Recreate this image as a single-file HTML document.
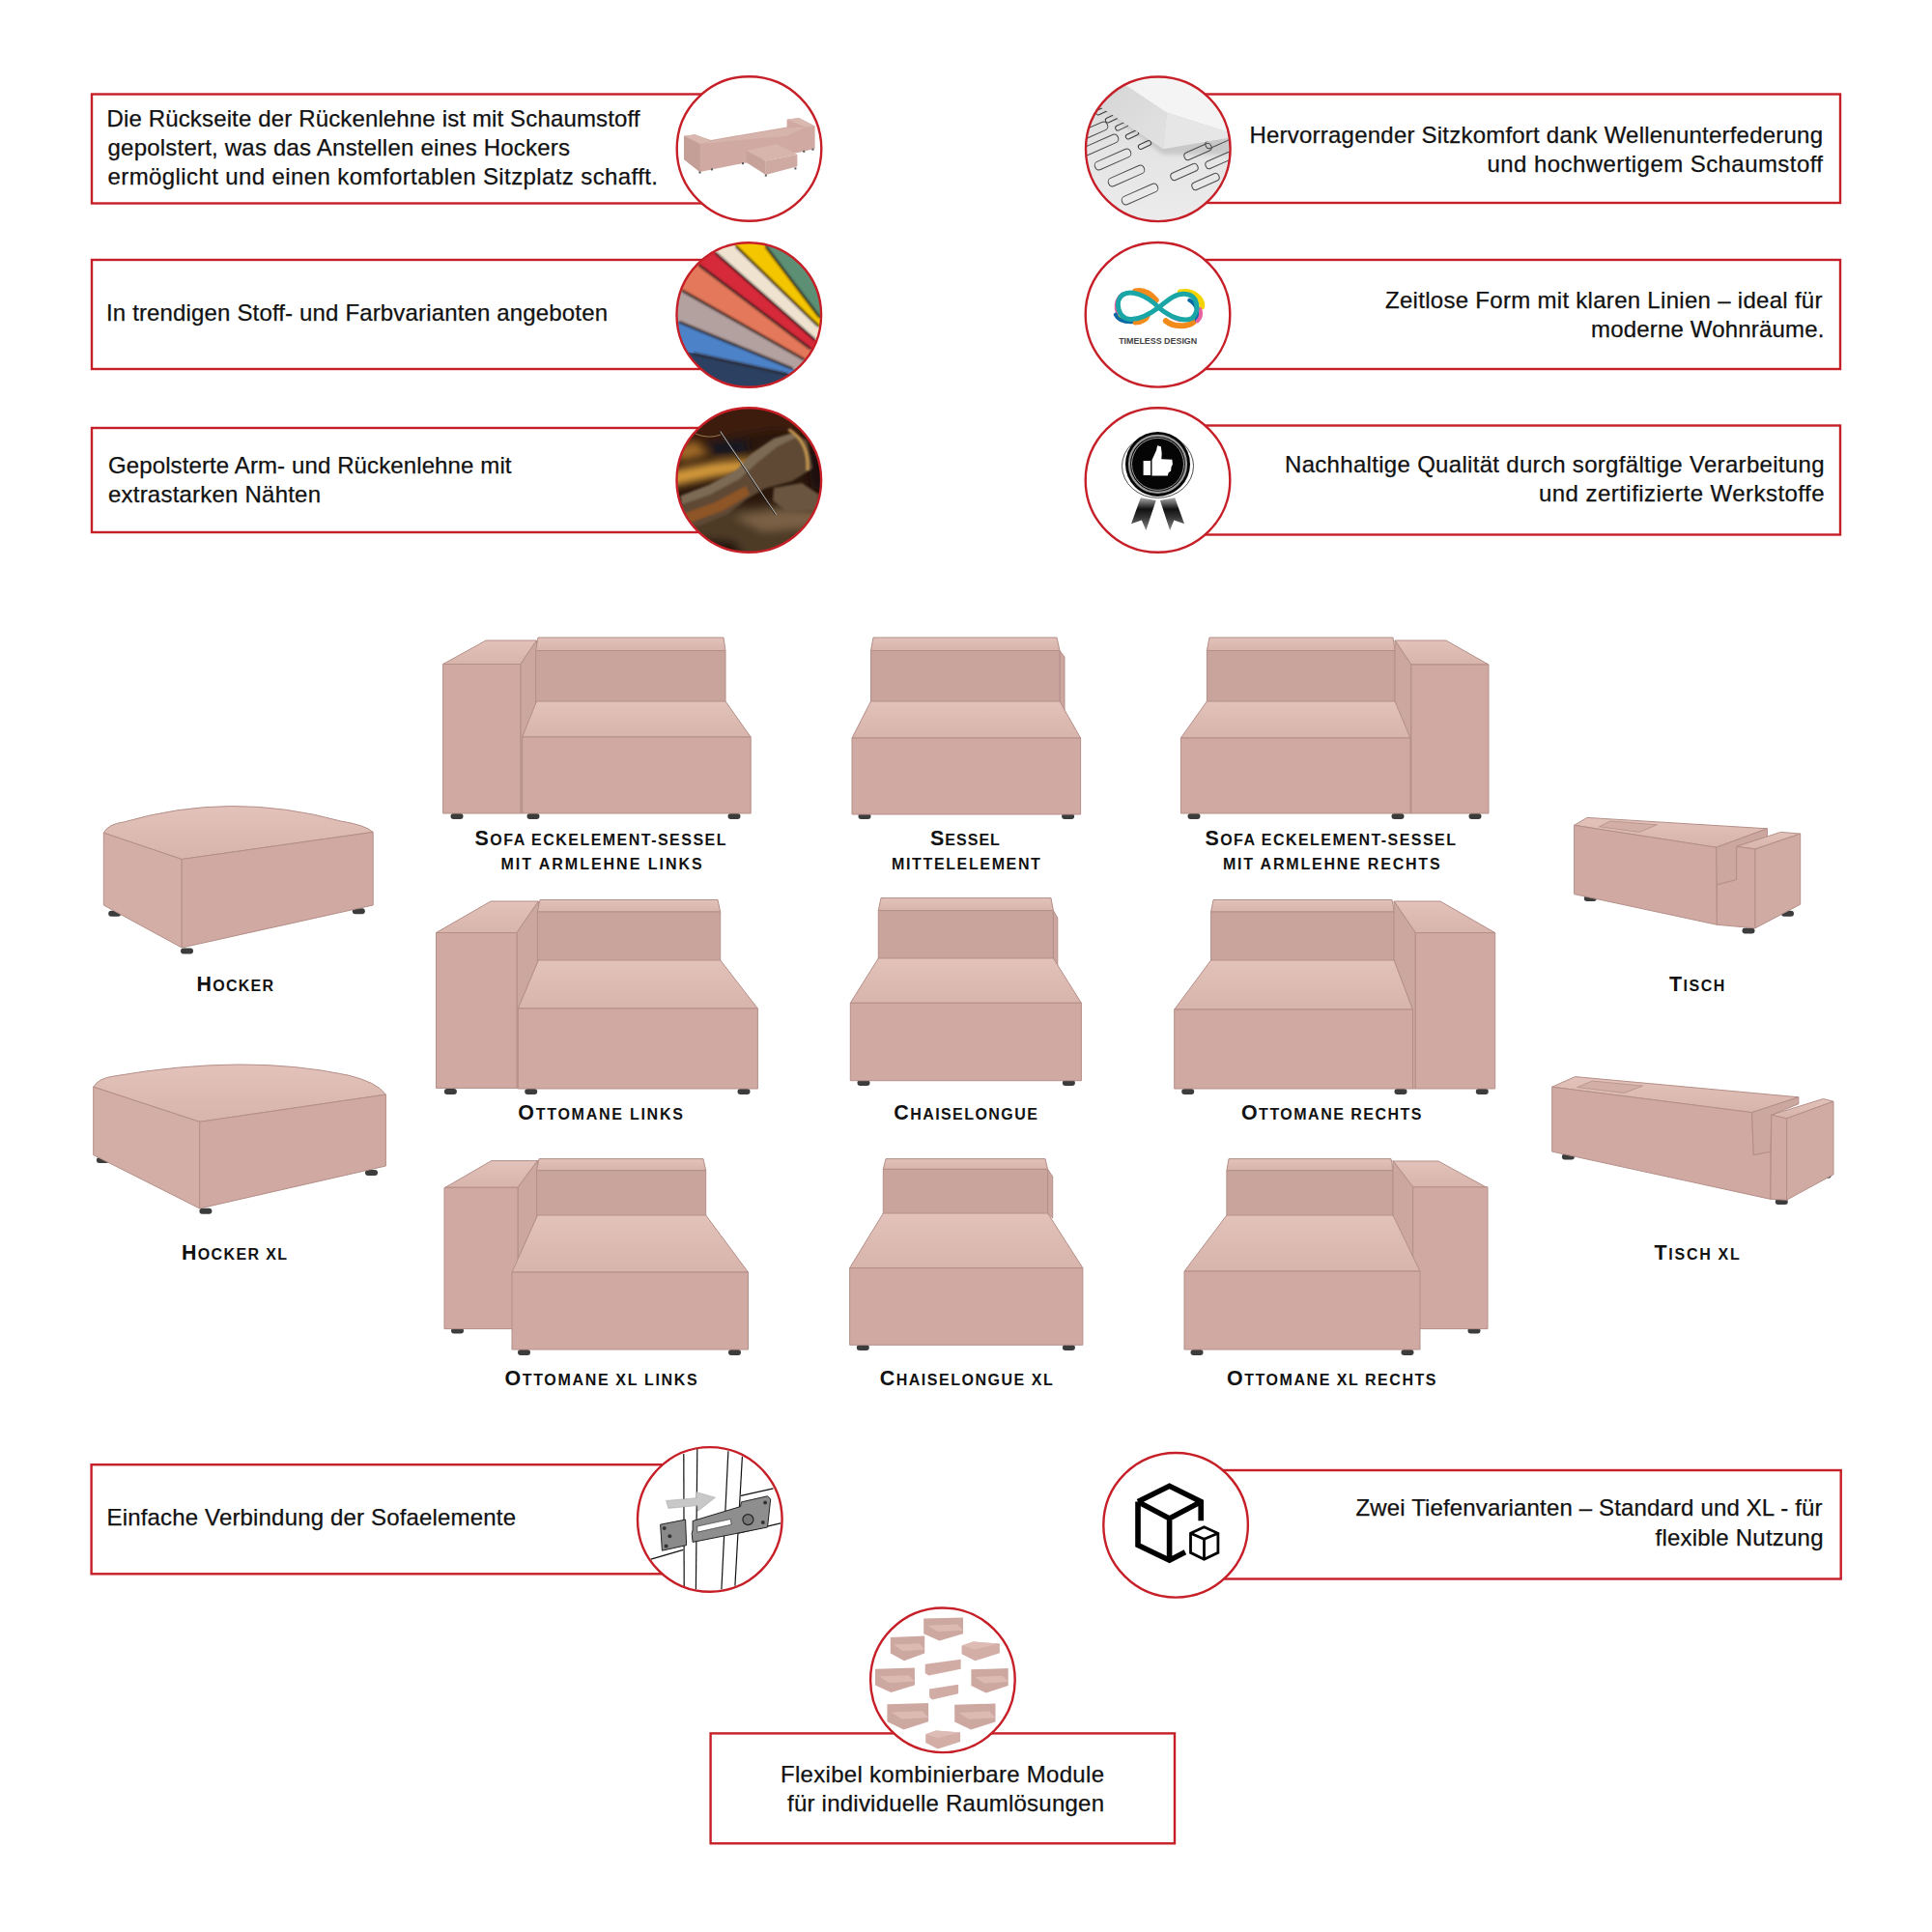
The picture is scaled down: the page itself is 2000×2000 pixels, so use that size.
<!DOCTYPE html>
<html><head><meta charset="utf-8"><style>
html,body{margin:0;padding:0;background:#fff;width:2000px;height:2000px;overflow:hidden;position:relative}
</style></head><body>
<svg width="2000" height="2000" viewBox="0 0 2000 2000" style="position:absolute;left:0;top:0">
<defs>
<clipPath id="c0"><circle cx="775.5" cy="154" r="75"/></clipPath>
<clipPath id="c1"><circle cx="775.3" cy="326" r="75"/></clipPath>
<clipPath id="c2"><circle cx="775.3" cy="497" r="75"/></clipPath>
<clipPath id="c3"><circle cx="1198.8" cy="154.3" r="75"/></clipPath>
<clipPath id="c4"><circle cx="1198.5" cy="325.8" r="75"/></clipPath>
<clipPath id="c5"><circle cx="1198.5" cy="497" r="75"/></clipPath>
<clipPath id="c6"><circle cx="734.8" cy="1572.9" r="75"/></clipPath>
<clipPath id="c7"><circle cx="1217.1" cy="1578.8" r="75"/></clipPath>
<clipPath id="c8"><circle cx="975.9" cy="1739.3" r="75"/></clipPath>
<filter id="bl4" x="-50%" y="-50%" width="200%" height="200%"><feGaussianBlur stdDeviation="4"/></filter><filter id="bl2" x="-50%" y="-50%" width="200%" height="200%"><feGaussianBlur stdDeviation="2"/></filter><filter id="bl1" x="-50%" y="-50%" width="200%" height="200%"><feGaussianBlur stdDeviation="1"/></filter>
<linearGradient id="topg" x1="0" y1="0" x2="0" y2="1"><stop offset="0" stop-color="#e2c2ba"/><stop offset="1" stop-color="#d7b4ac"/></linearGradient>
</defs>
<rect x="95" y="97.5" width="665" height="113.0" fill="none" stroke="#c61f27" stroke-width="2.4"/>
<rect x="95" y="269" width="665" height="113" fill="none" stroke="#c61f27" stroke-width="2.4"/>
<rect x="95" y="443" width="665" height="108" fill="none" stroke="#c61f27" stroke-width="2.4"/>
<rect x="1215" y="97.5" width="690" height="112.5" fill="none" stroke="#c61f27" stroke-width="2.4"/>
<rect x="1215" y="269" width="690" height="113" fill="none" stroke="#c61f27" stroke-width="2.4"/>
<rect x="1215" y="440.5" width="690" height="113.0" fill="none" stroke="#c61f27" stroke-width="2.4"/>
<rect x="94.6" y="1516.2" width="625.4" height="113.09999999999991" fill="none" stroke="#c61f27" stroke-width="2.4"/>
<rect x="1230" y="1522" width="675.7" height="112.5" fill="none" stroke="#c61f27" stroke-width="2.4"/>
<rect x="735.6" y="1794.4" width="480.4" height="113.89999999999986" fill="none" stroke="#c61f27" stroke-width="2.4"/>
<text x="110.50" y="130.6" font-family='"Liberation Sans", sans-serif' font-size="24" fill="#111" stroke="#111" stroke-width="0.25" textLength="552.00" lengthAdjust="spacing">Die Rückseite der Rückenlehne ist mit Schaumstoff</text>
<text x="111.50" y="160.5" font-family='"Liberation Sans", sans-serif' font-size="24" fill="#111" stroke="#111" stroke-width="0.25" textLength="478.50" lengthAdjust="spacing">gepolstert, was das Anstellen eines Hockers</text>
<text x="111.50" y="190.5" font-family='"Liberation Sans", sans-serif' font-size="24" fill="#111" stroke="#111" stroke-width="0.25" textLength="569.50" lengthAdjust="spacing">ermöglicht und einen komfortablen Sitzplatz schafft.</text>
<text x="110.00" y="331.5" font-family='"Liberation Sans", sans-serif' font-size="24" fill="#111" stroke="#111" stroke-width="0.25" textLength="519.00" lengthAdjust="spacing">In trendigen Stoff- und Farbvarianten angeboten</text>
<text x="112.00" y="490.3" font-family='"Liberation Sans", sans-serif' font-size="24" fill="#111" stroke="#111" stroke-width="0.25" textLength="417.50" lengthAdjust="spacing">Gepolsterte Arm- und Rückenlehne mit</text>
<text x="112.00" y="520.1" font-family='"Liberation Sans", sans-serif' font-size="24" fill="#111" stroke="#111" stroke-width="0.25" textLength="220.00" lengthAdjust="spacing">extrastarken Nähten</text>
<text x="1293.50" y="148.4" font-family='"Liberation Sans", sans-serif' font-size="24" fill="#111" stroke="#111" stroke-width="0.25" textLength="593.50" lengthAdjust="spacing">Hervorragender Sitzkomfort dank Wellenunterfederung</text>
<text x="1539.50" y="178.2" font-family='"Liberation Sans", sans-serif' font-size="24" fill="#111" stroke="#111" stroke-width="0.25" textLength="347.50" lengthAdjust="spacing">und hochwertigem Schaumstoff</text>
<text x="1434.00" y="319.2" font-family='"Liberation Sans", sans-serif' font-size="24" fill="#111" stroke="#111" stroke-width="0.25" textLength="452.50" lengthAdjust="spacing">Zeitlose Form mit klaren Linien – ideal für</text>
<text x="1647.00" y="349.2" font-family='"Liberation Sans", sans-serif' font-size="24" fill="#111" stroke="#111" stroke-width="0.25" textLength="241.50" lengthAdjust="spacing">moderne Wohnräume.</text>
<text x="1330.00" y="488.8" font-family='"Liberation Sans", sans-serif' font-size="24" fill="#111" stroke="#111" stroke-width="0.25" textLength="558.50" lengthAdjust="spacing">Nachhaltige Qualität durch sorgfältige Verarbeitung</text>
<text x="1593.00" y="518.6" font-family='"Liberation Sans", sans-serif' font-size="24" fill="#111" stroke="#111" stroke-width="0.25" textLength="295.50" lengthAdjust="spacing">und zertifizierte Werkstoffe</text>
<text x="110.50" y="1579.2" font-family='"Liberation Sans", sans-serif' font-size="24" fill="#111" stroke="#111" stroke-width="0.25" textLength="423.50" lengthAdjust="spacing">Einfache Verbindung der Sofaelemente</text>
<text x="1403.50" y="1569.3" font-family='"Liberation Sans", sans-serif' font-size="24" fill="#111" stroke="#111" stroke-width="0.25" textLength="483.00" lengthAdjust="spacing">Zwei Tiefenvarianten – Standard und XL - für</text>
<text x="1713.50" y="1599.5" font-family='"Liberation Sans", sans-serif' font-size="24" fill="#111" stroke="#111" stroke-width="0.25" textLength="174.00" lengthAdjust="spacing">flexible Nutzung</text>
<text x="808.00" y="1844.9" font-family='"Liberation Sans", sans-serif' font-size="24" fill="#111" stroke="#111" stroke-width="0.25" textLength="335.00" lengthAdjust="spacing">Flexibel kombinierbare Module</text>
<text x="815.00" y="1874.5" font-family='"Liberation Sans", sans-serif' font-size="24" fill="#111" stroke="#111" stroke-width="0.25" textLength="328.00" lengthAdjust="spacing">für individuelle Raumlösungen</text>
<rect x="466.5" y="842.0" width="13" height="6" rx="3" fill="#3c3c3c"/>
<rect x="545.5" y="842.0" width="13" height="6" rx="3" fill="#3c3c3c"/>
<rect x="753.5" y="842.0" width="13" height="6" rx="3" fill="#3c3c3c"/>
<polygon points="503.0,663.0 555.5,663.0 538.8,687.5 458.6,687.5" fill="url(#topg)" stroke="#b48f88" stroke-width="1.0" stroke-linejoin="round"/>
<polygon points="538.8,687.5 555.5,663.0 555.5,730.0 540.6,763.0 540.6,842.0 538.8,842.0" fill="#cca7a0" stroke="#b48f88" stroke-width="1.0" stroke-linejoin="round"/>
<polygon points="458.6,687.5 538.8,687.5 538.8,842.0 458.6,842.0" fill="#cfa9a2" stroke="#b48f88" stroke-width="1.0" stroke-linejoin="round"/>
<polygon points="557.0,660.0 749.0,660.0 751.0,673.5 554.6,673.5" fill="url(#topg)" stroke="#b48f88" stroke-width="1.0" stroke-linejoin="round"/>
<polygon points="554.6,673.5 751.0,673.5 751.0,731.0 554.6,731.0" fill="#c9a49d" stroke="#b48f88" stroke-width="1.0" stroke-linejoin="round"/>
<polygon points="555.5,726.0 751.0,726.0 777.2,763.0 540.6,763.0" fill="url(#topg)" stroke="#b48f88" stroke-width="1.0" stroke-linejoin="round"/>
<polygon points="540.6,763.0 777.2,763.0 777.2,842.0 540.6,842.0" fill="#cfa9a2" stroke="#b48f88" stroke-width="1.0" stroke-linejoin="round"/>
<rect x="888.5" y="842.0" width="13" height="6" rx="3" fill="#3c3c3c"/>
<rect x="1099.1" y="842.0" width="13" height="6" rx="3" fill="#3c3c3c"/>
<polygon points="904.0,660.0 1094.0,660.0 1097.0,673.5 901.5,673.5" fill="url(#topg)" stroke="#b48f88" stroke-width="1.0" stroke-linejoin="round"/>
<polygon points="1097.0,673.5 1102.0,680.0 1102.0,738.0 1097.0,731.0" fill="#cca7a0" stroke="#b48f88" stroke-width="1.0" stroke-linejoin="round"/>
<polygon points="901.5,673.5 1097.0,673.5 1097.0,731.0 901.5,731.0" fill="#c9a49d" stroke="#b48f88" stroke-width="1.0" stroke-linejoin="round"/>
<polygon points="901.5,726.0 1097.0,726.0 1118.6,764.0 882.0,764.0" fill="url(#topg)" stroke="#b48f88" stroke-width="1.0" stroke-linejoin="round"/>
<polygon points="882.0,764.0 1118.6,764.0 1118.6,843.0 882.0,843.0" fill="#cfa9a2" stroke="#b48f88" stroke-width="1.0" stroke-linejoin="round"/>
<rect x="1229.5" y="842.0" width="13" height="6" rx="3" fill="#3c3c3c"/>
<rect x="1440.5" y="842.0" width="13" height="6" rx="3" fill="#3c3c3c"/>
<rect x="1520.5" y="842.0" width="13" height="6" rx="3" fill="#3c3c3c"/>
<polygon points="1252.0,660.0 1442.0,660.0 1444.0,673.5 1249.4,673.5" fill="url(#topg)" stroke="#b48f88" stroke-width="1.0" stroke-linejoin="round"/>
<polygon points="1249.4,673.5 1444.0,673.5 1444.0,731.0 1249.4,731.0" fill="#c9a49d" stroke="#b48f88" stroke-width="1.0" stroke-linejoin="round"/>
<polygon points="1444.0,663.0 1497.0,663.0 1541.0,688.0 1460.9,688.0" fill="url(#topg)" stroke="#b48f88" stroke-width="1.0" stroke-linejoin="round"/>
<polygon points="1444.0,663.0 1460.9,688.0 1460.9,842.0 1460.0,842.0 1460.0,764.0 1444.0,730.0" fill="#cca7a0" stroke="#b48f88" stroke-width="1.0" stroke-linejoin="round"/>
<polygon points="1460.9,688.0 1541.0,688.0 1541.0,842.0 1460.9,842.0" fill="#cfa9a2" stroke="#b48f88" stroke-width="1.0" stroke-linejoin="round"/>
<polygon points="1249.4,726.0 1444.0,726.0 1460.0,764.0 1222.4,764.0" fill="url(#topg)" stroke="#b48f88" stroke-width="1.0" stroke-linejoin="round"/>
<polygon points="1222.4,764.0 1460.0,764.0 1460.0,842.0 1222.4,842.0" fill="#cfa9a2" stroke="#b48f88" stroke-width="1.0" stroke-linejoin="round"/>
<rect x="459.9" y="1127.0" width="13" height="6" rx="3" fill="#3c3c3c"/>
<rect x="543.2" y="1127.0" width="13" height="6" rx="3" fill="#3c3c3c"/>
<rect x="763.5" y="1127.0" width="13" height="6" rx="3" fill="#3c3c3c"/>
<polygon points="508.0,933.0 557.4,933.0 535.0,965.5 451.5,965.5" fill="url(#topg)" stroke="#b48f88" stroke-width="1.0" stroke-linejoin="round"/>
<polygon points="535.0,965.5 557.4,933.0 557.4,994.0 536.3,1044.0 536.3,1126.4 535.0,1126.4" fill="#cca7a0" stroke="#b48f88" stroke-width="1.0" stroke-linejoin="round"/>
<polygon points="451.5,965.5 535.0,965.5 535.0,1126.4 451.5,1126.4" fill="#cfa9a2" stroke="#b48f88" stroke-width="1.0" stroke-linejoin="round"/>
<polygon points="559.0,931.5 743.0,931.5 745.7,944.0 556.4,944.0" fill="url(#topg)" stroke="#b48f88" stroke-width="1.0" stroke-linejoin="round"/>
<polygon points="556.4,944.0 745.7,944.0 745.7,995.0 556.4,995.0" fill="#c9a49d" stroke="#b48f88" stroke-width="1.0" stroke-linejoin="round"/>
<polygon points="557.4,994.0 745.7,994.0 784.4,1044.0 536.3,1044.0" fill="url(#topg)" stroke="#b48f88" stroke-width="1.0" stroke-linejoin="round"/>
<polygon points="536.3,1044.0 784.4,1044.0 784.4,1127.0 536.3,1127.0" fill="#cfa9a2" stroke="#b48f88" stroke-width="1.0" stroke-linejoin="round"/>
<rect x="887.5" y="1118.0" width="13" height="6" rx="3" fill="#3c3c3c"/>
<rect x="1099.9" y="1118.0" width="13" height="6" rx="3" fill="#3c3c3c"/>
<polygon points="912.0,929.6 1088.0,929.6 1090.4,942.6 909.3,942.6" fill="url(#topg)" stroke="#b48f88" stroke-width="1.0" stroke-linejoin="round"/>
<polygon points="1090.4,942.6 1094.8,950.0 1094.8,1002.8 1090.4,992.0" fill="#cca7a0" stroke="#b48f88" stroke-width="1.0" stroke-linejoin="round"/>
<polygon points="909.3,942.6 1090.4,942.6 1090.4,993.0 909.3,993.0" fill="#c9a49d" stroke="#b48f88" stroke-width="1.0" stroke-linejoin="round"/>
<polygon points="909.3,992.0 1090.4,992.0 1119.4,1038.3 880.3,1038.3" fill="url(#topg)" stroke="#b48f88" stroke-width="1.0" stroke-linejoin="round"/>
<polygon points="880.3,1038.3 1119.4,1038.3 1119.4,1118.7 880.3,1118.7" fill="#cfa9a2" stroke="#b48f88" stroke-width="1.0" stroke-linejoin="round"/>
<rect x="1223.2" y="1127.0" width="13" height="6" rx="3" fill="#3c3c3c"/>
<rect x="1443.5" y="1127.0" width="13" height="6" rx="3" fill="#3c3c3c"/>
<rect x="1527.8" y="1127.0" width="13" height="6" rx="3" fill="#3c3c3c"/>
<polygon points="1256.0,931.5 1441.0,931.5 1443.3,944.0 1253.6,944.0" fill="url(#topg)" stroke="#b48f88" stroke-width="1.0" stroke-linejoin="round"/>
<polygon points="1253.6,944.0 1443.3,944.0 1443.3,995.0 1253.6,995.0" fill="#c9a49d" stroke="#b48f88" stroke-width="1.0" stroke-linejoin="round"/>
<polygon points="1443.0,933.0 1491.0,933.0 1547.7,965.6 1465.3,965.6" fill="url(#topg)" stroke="#b48f88" stroke-width="1.0" stroke-linejoin="round"/>
<polygon points="1443.0,933.0 1465.3,965.6 1465.3,1127.0 1462.5,1127.0 1462.5,1045.0 1443.0,994.0" fill="#cca7a0" stroke="#b48f88" stroke-width="1.0" stroke-linejoin="round"/>
<polygon points="1465.3,965.6 1547.7,965.6 1547.7,1127.0 1465.3,1127.0" fill="#cfa9a2" stroke="#b48f88" stroke-width="1.0" stroke-linejoin="round"/>
<polygon points="1253.6,994.0 1443.0,994.0 1462.5,1045.0 1215.7,1045.0" fill="url(#topg)" stroke="#b48f88" stroke-width="1.0" stroke-linejoin="round"/>
<polygon points="1215.7,1045.0 1462.5,1045.0 1462.5,1127.0 1215.7,1127.0" fill="#cfa9a2" stroke="#b48f88" stroke-width="1.0" stroke-linejoin="round"/>
<rect x="467.0" y="1374.5" width="13" height="6" rx="3" fill="#3c3c3c"/>
<rect x="536.0" y="1397.0" width="13" height="6" rx="3" fill="#3c3c3c"/>
<rect x="754.0" y="1397.0" width="13" height="6" rx="3" fill="#3c3c3c"/>
<polygon points="508.8,1201.6 556.5,1201.6 536.0,1229.2 461.0,1229.2" fill="url(#topg)" stroke="#b48f88" stroke-width="1.0" stroke-linejoin="round"/>
<polygon points="536.0,1229.4 556.5,1201.4 556.5,1258.0 530.0,1317.0 536.0,1317.0" fill="#cca7a0" stroke="#b48f88" stroke-width="1.0" stroke-linejoin="round"/>
<polygon points="460.0,1229.4 536.0,1229.4 536.0,1375.6 460.0,1375.6" fill="#cfa9a2" stroke="#b48f88" stroke-width="1.0" stroke-linejoin="round"/>
<polygon points="558.0,1199.6 728.0,1199.6 730.7,1211.7 555.5,1211.7" fill="url(#topg)" stroke="#b48f88" stroke-width="1.0" stroke-linejoin="round"/>
<polygon points="555.5,1211.7 730.7,1211.7 730.7,1259.0 555.5,1259.0" fill="#c9a49d" stroke="#b48f88" stroke-width="1.0" stroke-linejoin="round"/>
<polygon points="556.5,1258.0 730.7,1258.0 774.5,1317.0 530.0,1317.0" fill="url(#topg)" stroke="#b48f88" stroke-width="1.0" stroke-linejoin="round"/>
<polygon points="530.0,1317.0 774.5,1317.0 774.5,1397.0 530.0,1397.0" fill="#cfa9a2" stroke="#b48f88" stroke-width="1.0" stroke-linejoin="round"/>
<rect x="886.8" y="1392.0" width="13" height="6" rx="3" fill="#3c3c3c"/>
<rect x="1099.9" y="1392.0" width="13" height="6" rx="3" fill="#3c3c3c"/>
<polygon points="917.0,1199.6 1082.0,1199.6 1084.6,1210.4 914.3,1210.4" fill="url(#topg)" stroke="#b48f88" stroke-width="1.0" stroke-linejoin="round"/>
<polygon points="1084.6,1210.4 1089.7,1218.0 1089.7,1261.0 1084.6,1256.0" fill="#cca7a0" stroke="#b48f88" stroke-width="1.0" stroke-linejoin="round"/>
<polygon points="914.3,1210.4 1084.6,1210.4 1084.6,1257.0 914.3,1257.0" fill="#c9a49d" stroke="#b48f88" stroke-width="1.0" stroke-linejoin="round"/>
<polygon points="914.3,1256.0 1084.6,1256.0 1120.9,1312.6 879.6,1312.6" fill="url(#topg)" stroke="#b48f88" stroke-width="1.0" stroke-linejoin="round"/>
<polygon points="879.6,1312.6 1120.9,1312.6 1120.9,1392.3 879.6,1392.3" fill="#cfa9a2" stroke="#b48f88" stroke-width="1.0" stroke-linejoin="round"/>
<rect x="1232.5" y="1397.0" width="13" height="6" rx="3" fill="#3c3c3c"/>
<rect x="1450.5" y="1397.0" width="13" height="6" rx="3" fill="#3c3c3c"/>
<rect x="1519.5" y="1374.5" width="13" height="6" rx="3" fill="#3c3c3c"/>
<polygon points="1272.0,1199.6 1440.0,1199.6 1442.2,1211.7 1269.9,1211.7" fill="url(#topg)" stroke="#b48f88" stroke-width="1.0" stroke-linejoin="round"/>
<polygon points="1269.9,1211.7 1442.2,1211.7 1442.2,1259.0 1269.9,1259.0" fill="#c9a49d" stroke="#b48f88" stroke-width="1.0" stroke-linejoin="round"/>
<polygon points="1442.0,1202.0 1489.0,1202.0 1538.5,1229.0 1462.7,1229.0" fill="url(#topg)" stroke="#b48f88" stroke-width="1.0" stroke-linejoin="round"/>
<polygon points="1442.0,1201.4 1462.7,1228.8 1462.7,1316.0 1442.0,1258.0" fill="#cca7a0" stroke="#b48f88" stroke-width="1.0" stroke-linejoin="round"/>
<polygon points="1462.7,1228.8 1540.0,1228.8 1540.0,1375.6 1462.7,1375.6" fill="#cfa9a2" stroke="#b48f88" stroke-width="1.0" stroke-linejoin="round"/>
<polygon points="1269.9,1258.0 1442.0,1258.0 1470.0,1316.0 1226.0,1316.0" fill="url(#topg)" stroke="#b48f88" stroke-width="1.0" stroke-linejoin="round"/>
<polygon points="1226.0,1316.0 1470.0,1316.0 1470.0,1397.0 1226.0,1397.0" fill="#cfa9a2" stroke="#b48f88" stroke-width="1.0" stroke-linejoin="round"/>
<rect x="187.0" y="981.5" width="13" height="6" rx="3" fill="#3c3c3c"/>
<rect x="112.2" y="942.8" width="13" height="6" rx="3" fill="#3c3c3c"/>
<rect x="364.8" y="940.2" width="13" height="6" rx="3" fill="#3c3c3c"/>
<path d="M107.3,862.2 Q112,853 128,851 Q239.3,818.6 352.8,850 Q378,854 386.2,861.4 L188.2,889.5 Z" fill="url(#topg)" stroke="#b48f88" stroke-width="1"/>
<polygon points="107.3,862.2 188.2,889.5 188.2,981.0 107.3,937.0" fill="#d3aea7" stroke="#b48f88" stroke-width="1.0" stroke-linejoin="round"/>
<polygon points="188.2,889.5 386.2,861.4 386.2,937.0 188.2,981.0" fill="#cfa9a2" stroke="#b48f88" stroke-width="1.0" stroke-linejoin="round"/>
<rect x="206.4" y="1250.7" width="13" height="6" rx="3" fill="#3c3c3c"/>
<rect x="99.9" y="1197.9" width="13" height="6" rx="3" fill="#3c3c3c"/>
<rect x="378.0" y="1211.0" width="13" height="6" rx="3" fill="#3c3c3c"/>
<path d="M96.7,1125.2 Q102,1116 118,1114 Q255,1090.5 360,1113 Q390,1120 399.4,1133.1 L206.7,1161.3 Z" fill="url(#topg)" stroke="#b48f88" stroke-width="1"/>
<polygon points="96.7,1125.2 206.7,1161.3 206.7,1251.0 96.7,1195.6" fill="#d3aea7" stroke="#b48f88" stroke-width="1.0" stroke-linejoin="round"/>
<polygon points="206.7,1161.3 399.4,1133.1 399.4,1207.0 206.7,1251.0" fill="#cfa9a2" stroke="#b48f88" stroke-width="1.0" stroke-linejoin="round"/>
<rect x="1639.8" y="927.0" width="13" height="6" rx="3" fill="#3c3c3c"/>
<rect x="1803.5" y="960.4" width="13" height="6" rx="3" fill="#3c3c3c"/>
<rect x="1844.0" y="942.8" width="13" height="6" rx="3" fill="#3c3c3c"/>
<polygon points="1629.6,854.3 1642.8,846.4 1829.4,857.8 1776.6,877.2" fill="url(#topg)" stroke="#b48f88" stroke-width="1.0" stroke-linejoin="round"/>
<polygon points="1655.5,855.8 1697.3,861.4 1715.2,853.8 1666.9,850.0" fill="#d2aea6" stroke="#b48f88" stroke-width="0.8" stroke-linejoin="round"/>
<polygon points="1629.6,854.3 1776.6,877.2 1777.4,957.3 1629.6,925.6" fill="#cfa9a2" stroke="#b48f88" stroke-width="1.0" stroke-linejoin="round"/>
<polygon points="1776.6,877.2 1829.4,857.8 1829.4,865.8 1797.7,876.3 1797.7,910.6 1777.4,915.9" fill="#cca7a0" stroke="#b48f88" stroke-width="1.0" stroke-linejoin="round"/>
<polygon points="1797.7,876.3 1843.4,861.4 1863.7,863.1 1817.0,879.0" fill="url(#topg)" stroke="#b48f88" stroke-width="1.0" stroke-linejoin="round"/>
<polygon points="1797.7,876.3 1817.0,879.0 1817.0,960.8 1777.4,957.3 1777.4,915.9 1797.7,910.6" fill="#cfa9a2" stroke="#b48f88" stroke-width="1.0" stroke-linejoin="round"/>
<polygon points="1817.0,879.0 1863.7,863.1 1863.7,936.2 1817.0,960.8" fill="#d0aba4" stroke="#b48f88" stroke-width="1.0" stroke-linejoin="round"/>
<rect x="1616.9" y="1194.4" width="13" height="6" rx="3" fill="#3c3c3c"/>
<rect x="1837.8" y="1241.0" width="13" height="6" rx="3" fill="#3c3c3c"/>
<rect x="1882.7" y="1213.7" width="13" height="6" rx="3" fill="#3c3c3c"/>
<polygon points="1606.7,1125.2 1630.5,1114.6 1861.9,1135.8 1813.5,1151.6" fill="url(#topg)" stroke="#b48f88" stroke-width="1.0" stroke-linejoin="round"/>
<polygon points="1632.6,1125.6 1681.3,1131.4 1700.5,1124.1 1648.4,1119.0" fill="#d2aea6" stroke="#b48f88" stroke-width="0.8" stroke-linejoin="round"/>
<polygon points="1606.7,1125.2 1813.5,1151.6 1815.3,1195.6 1832.9,1192.1 1832.9,1241.4 1606.7,1192.1" fill="#cfa9a2" stroke="#b48f88" stroke-width="1.0" stroke-linejoin="round"/>
<polygon points="1813.5,1151.6 1861.9,1135.8 1861.9,1142.8 1833.8,1154.2 1832.9,1192.1 1815.3,1195.6" fill="#cca7a0" stroke="#b48f88" stroke-width="1.0" stroke-linejoin="round"/>
<polygon points="1833.8,1154.2 1887.4,1137.5 1898.0,1140.2 1849.6,1157.8" fill="url(#topg)" stroke="#b48f88" stroke-width="1.0" stroke-linejoin="round"/>
<polygon points="1833.8,1154.2 1849.6,1157.8 1849.6,1242.2 1832.9,1241.4" fill="#cfa9a2" stroke="#b48f88" stroke-width="1.0" stroke-linejoin="round"/>
<polygon points="1849.6,1157.8 1898.0,1140.2 1898.0,1215.8 1849.6,1242.2" fill="#d0aba4" stroke="#b48f88" stroke-width="1.0" stroke-linejoin="round"/>
<text x="491.60" y="874.8" font-family='"Liberation Sans", sans-serif' font-weight="bold" fill="#111" textLength="259.90" lengthAdjust="spacing"><tspan font-size="21.4">S</tspan><tspan font-size="16">OFA ECKELEMENT-SESSEL</tspan></text>
<text x="518.40" y="900.3" font-family='"Liberation Sans", sans-serif' font-weight="bold" fill="#111" textLength="208.30" lengthAdjust="spacing"><tspan font-size="16">MIT ARMLEHNE LINKS</tspan></text>
<text x="963.00" y="874.8" font-family='"Liberation Sans", sans-serif' font-weight="bold" fill="#111" textLength="71.90" lengthAdjust="spacing"><tspan font-size="21.4">S</tspan><tspan font-size="16">ESSEL</tspan></text>
<text x="923.00" y="900.3" font-family='"Liberation Sans", sans-serif' font-weight="bold" fill="#111" textLength="153.90" lengthAdjust="spacing"><tspan font-size="16">MITTELELEMENT</tspan></text>
<text x="1247.40" y="874.8" font-family='"Liberation Sans", sans-serif' font-weight="bold" fill="#111" textLength="259.60" lengthAdjust="spacing"><tspan font-size="21.4">S</tspan><tspan font-size="16">OFA ECKELEMENT-SESSEL</tspan></text>
<text x="1266.00" y="900.3" font-family='"Liberation Sans", sans-serif' font-weight="bold" fill="#111" textLength="224.60" lengthAdjust="spacing"><tspan font-size="16">MIT ARMLEHNE RECHTS</tspan></text>
<text x="536.30" y="1159.3" font-family='"Liberation Sans", sans-serif' font-weight="bold" fill="#111" textLength="170.60" lengthAdjust="spacing"><tspan font-size="21.4">O</tspan><tspan font-size="16">TTOMANE LINKS</tspan></text>
<text x="925.30" y="1159.3" font-family='"Liberation Sans", sans-serif' font-weight="bold" fill="#111" textLength="148.50" lengthAdjust="spacing"><tspan font-size="21.4">C</tspan><tspan font-size="16">HAISELONGUE</tspan></text>
<text x="1285.00" y="1159.3" font-family='"Liberation Sans", sans-serif' font-weight="bold" fill="#111" textLength="186.50" lengthAdjust="spacing"><tspan font-size="21.4">O</tspan><tspan font-size="16">TTOMANE RECHTS</tspan></text>
<text x="522.40" y="1433.8" font-family='"Liberation Sans", sans-serif' font-weight="bold" fill="#111" textLength="199.30" lengthAdjust="spacing"><tspan font-size="21.4">O</tspan><tspan font-size="16">TTOMANE XL LINKS</tspan></text>
<text x="910.70" y="1433.8" font-family='"Liberation Sans", sans-serif' font-weight="bold" fill="#111" textLength="179.00" lengthAdjust="spacing"><tspan font-size="21.4">C</tspan><tspan font-size="16">HAISELONGUE XL</tspan></text>
<text x="1270.10" y="1433.8" font-family='"Liberation Sans", sans-serif' font-weight="bold" fill="#111" textLength="216.40" lengthAdjust="spacing"><tspan font-size="21.4">O</tspan><tspan font-size="16">TTOMANE XL RECHTS</tspan></text>
<text x="203.60" y="1025.5" font-family='"Liberation Sans", sans-serif' font-weight="bold" fill="#111" textLength="79.50" lengthAdjust="spacing"><tspan font-size="21.4">H</tspan><tspan font-size="16">OCKER</tspan></text>
<text x="188.00" y="1304" font-family='"Liberation Sans", sans-serif' font-weight="bold" fill="#111" textLength="109.00" lengthAdjust="spacing"><tspan font-size="21.4">H</tspan><tspan font-size="16">OCKER XL</tspan></text>
<text x="1728.00" y="1025.5" font-family='"Liberation Sans", sans-serif' font-weight="bold" fill="#111" textLength="57.30" lengthAdjust="spacing"><tspan font-size="21.4">T</tspan><tspan font-size="16">ISCH</tspan></text>
<text x="1712.60" y="1304" font-family='"Liberation Sans", sans-serif' font-weight="bold" fill="#111" textLength="88.10" lengthAdjust="spacing"><tspan font-size="21.4">T</tspan><tspan font-size="16">ISCH XL</tspan></text>
<circle cx="775.5" cy="154" r="75" fill="#fff"/>
<circle cx="775.3" cy="326" r="75" fill="#fff"/>
<circle cx="775.3" cy="497" r="75" fill="#fff"/>
<circle cx="1198.8" cy="154.3" r="75" fill="#fff"/>
<circle cx="1198.5" cy="325.8" r="75" fill="#fff"/>
<circle cx="1198.5" cy="497" r="75" fill="#fff"/>
<circle cx="734.8" cy="1572.9" r="75" fill="#fff"/>
<circle cx="1217.1" cy="1578.8" r="75" fill="#fff"/>
<circle cx="975.9" cy="1739.3" r="75" fill="#fff"/>
<g clip-path="url(#c0)">
<polygon points="708.0,140.7 719.3,139.2 735.9,144.9 814.6,131.4 814.6,123.7 827.0,122.1 843.6,130.4 843.6,153.7 832.2,156.8 771.1,168.7 724.5,178.0 708.0,165.1" fill="#cfa9a2" stroke="none" stroke-width="0" stroke-linejoin="round" />
<polygon points="708.0,140.7 719.3,139.2 735.9,145.9 724.5,149.0" fill="#d9b8b0" stroke="none" stroke-width="0" stroke-linejoin="round" />
<polygon points="724.5,149.0 735.9,145.9 814.6,132.5 834.2,131.4 814.6,140.7" fill="#d6b3ab" stroke="none" stroke-width="0" stroke-linejoin="round" />
<polygon points="814.6,123.7 827.0,122.1 843.6,130.4 834.2,131.4" fill="#d9b8b0" stroke="none" stroke-width="0" stroke-linejoin="round" />
<polygon points="708.0,140.7 724.5,149.0 724.5,178.0 708.0,165.1" fill="#c49f98" stroke="none" stroke-width="0" stroke-linejoin="round" />
<polygon points="772.7,156.3 804.2,149.0 825.4,159.9 792.8,166.6" fill="#d7b4ac" stroke="none" stroke-width="0" stroke-linejoin="round" />
<polygon points="772.7,156.3 792.8,166.6 792.8,181.1 772.7,168.2" fill="#c7a29b" stroke="none" stroke-width="0" stroke-linejoin="round" />
<polygon points="792.8,166.6 825.4,159.9 825.4,172.3 792.8,181.1" fill="#cfaaa3" stroke="none" stroke-width="0" stroke-linejoin="round" />
<rect x="723.5" y="177.5" width="2" height="2" fill="#555"/>
<rect x="735.9" y="174.4" width="2" height="2" fill="#555"/>
<rect x="768.0" y="168.2" width="2" height="2" fill="#555"/>
<rect x="791.8" y="180.6" width="2" height="2" fill="#555"/>
<rect x="822.4" y="173.4" width="2" height="2" fill="#555"/>
<rect x="831.2" y="155.8" width="2" height="2" fill="#555"/>
<rect x="840.5" y="153.7" width="2" height="2" fill="#555"/>
</g>
<g clip-path="url(#c1)">
<circle cx="775.3" cy="326" r="76" fill="#2a3348"/>
<polygon points="363.8,342.5 1146.7,473.0 1109.4,451.6 424.4,301.5" fill="#2c4062" stroke="none" stroke-width="0" stroke-linejoin="round" />
<polygon points="424.4,301.5 1109.4,451.6 1172.8,527.0 350.8,187.8" fill="#4c82c8" stroke="none" stroke-width="0" stroke-linejoin="round" />
<polygon points="350.8,187.8 1172.8,527.0 1212.8,587.6 325.6,85.3" fill="#b3a1a0" stroke="none" stroke-width="0" stroke-linejoin="round" />
<polygon points="325.6,85.3 1212.8,587.6 1185.8,621.2 376.9,14.5" fill="#e4785a" stroke="none" stroke-width="0" stroke-linejoin="round" />
<polygon points="376.9,14.5 1185.8,621.2 1154.1,623.0 430.0,-9.8" fill="#d62a3a" stroke="none" stroke-width="0" stroke-linejoin="round" />
<polygon points="430.0,-9.8 1154.1,623.0 1104.7,586.7 504.5,6.1" fill="#efe3cf" stroke="none" stroke-width="0" stroke-linejoin="round" />
<polygon points="504.5,6.1 1104.7,586.7 1016.2,549.4 624.8,34.0" fill="#f4c600" stroke="none" stroke-width="0" stroke-linejoin="round" />
<polygon points="624.8,34.0 1016.2,549.4 1016.2,556.9 690.0,-30.3" fill="#5c8f73" stroke="none" stroke-width="0" stroke-linejoin="round" />
<line x1="718.0" y1="365.8" x2="815.8" y2="387.3" stroke="#2a1e1a" stroke-width="2.4" opacity="0.75" filter="url(#bl1)"/>
<line x1="703.0" y1="333.2" x2="820.5" y2="381.7" stroke="#2a1e1a" stroke-width="2.4" opacity="0.75" filter="url(#bl1)"/>
<line x1="705.8" y1="300.6" x2="832.6" y2="372.3" stroke="#2a1e1a" stroke-width="2.4" opacity="0.75" filter="url(#bl1)"/>
<line x1="723.6" y1="274.5" x2="839.1" y2="361.2" stroke="#2a1e1a" stroke-width="2.4" opacity="0.75" filter="url(#bl1)"/>
<line x1="740.3" y1="261.4" x2="843.8" y2="351.8" stroke="#2a1e1a" stroke-width="2.4" opacity="0.75" filter="url(#bl1)"/>
<line x1="761.8" y1="254.9" x2="847.5" y2="337.9" stroke="#2a1e1a" stroke-width="2.4" opacity="0.75" filter="url(#bl1)"/>
<line x1="792.5" y1="254.9" x2="848.4" y2="328.5" stroke="#2a1e1a" stroke-width="2.4" opacity="0.75" filter="url(#bl1)"/>
</g>
<g clip-path="url(#c2)">
<circle cx="775.3" cy="497" r="76" fill="#2a170c"/>
<g filter="url(#bl4)">
<polygon points="690.0,415.0 860.0,415.0 860.0,450.0 800.0,445.0 740.0,455.0 690.0,470.0" fill="#3c1e10" stroke="none" stroke-width="0" stroke-linejoin="round" />
<polygon points="690.0,488.0 740.0,478.0 790.0,474.0 800.0,486.0 740.0,494.0 690.0,505.0" fill="#d49a3a" stroke="none" stroke-width="0" stroke-linejoin="round" />
<polygon points="695.0,465.0 720.0,458.0 735.0,470.0 705.0,478.0" fill="#a06a28" stroke="none" stroke-width="0" stroke-linejoin="round" />
<polygon points="732.0,458.0 772.0,455.0 775.0,470.0 738.0,472.0" fill="#161622" stroke="none" stroke-width="0" stroke-linejoin="round" />
<polygon points="700.0,540.0 760.0,525.0 820.0,520.0 860.0,525.0 860.0,590.0 700.0,590.0" fill="#4e3a28" stroke="none" stroke-width="0" stroke-linejoin="round" />
<polygon points="760.0,535.0 810.0,528.0 850.0,530.0 845.0,545.0 790.0,550.0" fill="#7a6044" stroke="none" stroke-width="0" stroke-linejoin="round" />
<polygon points="700.0,555.0 760.0,560.0 780.0,590.0 700.0,590.0" fill="#22160e" stroke="none" stroke-width="0" stroke-linejoin="round" />
<polygon points="835.0,470.0 860.0,470.0 860.0,510.0 840.0,505.0" fill="#1a100a" stroke="none" stroke-width="0" stroke-linejoin="round" />
</g>
<g filter="url(#bl1)">
<polygon points="704.4,513.4 734.0,501.9 762.8,486.6 778.1,469.4 801.1,454.0 820.2,448.3 835.5,456.0 841.3,484.7 820.2,498.1 791.5,505.8 772.3,517.2 753.2,532.6 724.5,544.0 707.2,546.0" fill="#5e4a36" stroke="none" stroke-width="0" stroke-linejoin="round" />
<polygon points="704.4,513.4 734.0,501.9 762.8,486.6 778.1,469.4 801.1,454.0 820.2,448.3 826.0,452.0 805.0,462.0 785.0,478.0 765.0,496.0 735.0,512.0 706.0,522.0" fill="#7d6a55" stroke="none" stroke-width="0" stroke-linejoin="round" />
<polygon points="707.0,532.0 740.0,520.0 772.3,503.0 776.0,512.0 750.0,528.0 712.0,542.0" fill="#8e5428" stroke="none" stroke-width="0" stroke-linejoin="round" />
<polygon points="801.0,505.0 830.0,500.0 848.0,512.0 846.0,528.0 815.0,530.0 800.0,518.0" fill="#6a5540" stroke="none" stroke-width="0" stroke-linejoin="round" />
</g>
<path d="M816.4,444.5 Q838,458 836,487" stroke="#c89a50" stroke-width="3.2" fill="none" filter="url(#bl1)"/>
<line x1="745.5" y1="446.6" x2="803.5" y2="533" stroke="#bdbdbd" stroke-width="1.2"/>
<line x1="744.7" y1="446.6" x2="802.7" y2="533" stroke="#151515" stroke-width="0.9"/>
<path d="M719.8,449.1 Q734.7,454.7 745.9,450" stroke="#b09060" stroke-width="0.8" fill="none"/>
</g>
<defs><linearGradient id="foambg" x1="0" y1="0" x2="0" y2="1"><stop offset="0" stop-color="#d4d4d4"/><stop offset="0.5" stop-color="#e4e4e4"/><stop offset="1" stop-color="#ececec"/></linearGradient><linearGradient id="foamside" x1="0" y1="0" x2="1" y2="1"><stop offset="0" stop-color="#d6d6d6"/><stop offset="1" stop-color="#e2e2e2"/></linearGradient></defs>
<g clip-path="url(#c3)">
<circle cx="1198.8" cy="154.3" r="76" fill="url(#foambg)"/>
<polygon points="1138.0,110.1 1165.9,88.6 1207.9,116.6 1272.2,137.1 1275.0,160.0 1204.1,160.0" fill="#c8c8c8" stroke="none" stroke-width="0" stroke-linejoin="round" filter="url(#bl2)"/>
<rect x="1134.0" y="112.0" width="14.0" height="5.0" rx="2.3" fill="none" stroke="#3a3a3a" stroke-width="1.0" transform="rotate(-25 1141.0 114.5)"/>
<rect x="1144.0" y="120.0" width="14.0" height="5.0" rx="2.3" fill="none" stroke="#3a3a3a" stroke-width="1.0" transform="rotate(-25 1151.0 122.5)"/>
<rect x="1154.3" y="128.1" width="14.0" height="5.0" rx="2.3" fill="none" stroke="#3a3a3a" stroke-width="1.0" transform="rotate(-25 1161.3 130.6)"/>
<rect x="1165.0" y="137.0" width="14.0" height="5.0" rx="2.3" fill="none" stroke="#3a3a3a" stroke-width="1.0" transform="rotate(-25 1172.0 139.5)"/>
<rect x="1178.0" y="147.5" width="14.0" height="5.0" rx="2.3" fill="none" stroke="#3a3a3a" stroke-width="1.0" transform="rotate(-25 1185.0 150.0)"/>
<rect x="1160.0" y="196.5" width="40.0" height="9.0" rx="4.1" fill="none" stroke="#4a4a4a" stroke-width="1.0" transform="rotate(-24 1180.0 201.0)"/>
<rect x="1146.0" y="177.5" width="40.0" height="9.0" rx="4.1" fill="none" stroke="#4a4a4a" stroke-width="1.0" transform="rotate(-24 1166.0 182.0)"/>
<rect x="1132.0" y="160.5" width="40.0" height="9.0" rx="4.1" fill="none" stroke="#4a4a4a" stroke-width="1.0" transform="rotate(-24 1152.0 165.0)"/>
<rect x="1119.0" y="145.5" width="40.0" height="9.0" rx="4.1" fill="none" stroke="#4a4a4a" stroke-width="1.0" transform="rotate(-24 1139.0 150.0)"/>
<rect x="1108.0" y="132.5" width="40.0" height="9.0" rx="4.1" fill="none" stroke="#4a4a4a" stroke-width="1.0" transform="rotate(-24 1128.0 137.0)"/>
<rect x="1225.0" y="153.0" width="30.0" height="8.0" rx="3.6" fill="none" stroke="#4a4a4a" stroke-width="1.0" transform="rotate(-24 1240.0 157.0)"/>
<rect x="1247.0" y="162.0" width="30.0" height="8.0" rx="3.6" fill="none" stroke="#4a4a4a" stroke-width="1.0" transform="rotate(-24 1262.0 166.0)"/>
<rect x="1211.0" y="174.0" width="30.0" height="8.0" rx="3.6" fill="none" stroke="#4a4a4a" stroke-width="1.0" transform="rotate(-24 1226.0 178.0)"/>
<rect x="1233.0" y="184.0" width="30.0" height="8.0" rx="3.6" fill="none" stroke="#4a4a4a" stroke-width="1.0" transform="rotate(-24 1248.0 188.0)"/>
<rect x="1247.0" y="141.0" width="30.0" height="8.0" rx="3.6" fill="none" stroke="#4a4a4a" stroke-width="1.0" transform="rotate(-24 1262.0 145.0)"/>
<polygon points="1138.0,110.1 1165.9,88.6 1207.9,116.6 1204.1,154.3" fill="url(#foamside)" stroke="none" stroke-width="0" stroke-linejoin="round" />
<polygon points="1165.9,88.6 1190.0,60.0 1290.0,70.0 1290.0,139.0 1272.2,137.1 1207.9,116.6" fill="#f4f4f4" stroke="none" stroke-width="0" stroke-linejoin="round" />
<polygon points="1207.9,116.6 1272.2,137.1 1290.0,139.0 1290.0,143.0 1272.2,142.7 1204.1,154.3" fill="#e6e6e6" stroke="none" stroke-width="0" stroke-linejoin="round" />
</g>
<g clip-path="url(#c4)">
<g fill="none" stroke-linecap="round">
<path d="M 1162.2,305.2 C 1152.9,310.8 1153.8,329.5 1167.8,331.3" stroke="#e8609e" stroke-width="5" fill="none" stroke-linecap="round"/>
<path d="M 1158.5,328.5 C 1165.9,334.1 1179.9,333.2 1186.4,329.5" stroke="#f2d000" stroke-width="5" fill="none" stroke-linecap="round"/>
<path d="M 1154.7,325.7 C 1158.5,334.1 1170.6,334.1 1180.8,332.3" stroke="#0b6aa6" stroke-width="4" fill="none" stroke-linecap="round"/>
<path d="M 1175.2,301.5 C 1184.6,299.6 1192.0,305.2 1196.7,310.8" stroke="#f28a1c" stroke-width="6" fill="none" stroke-linecap="round"/>
<path d="M 1175.2,334.1 C 1182.7,334.1 1187.4,329.5 1188.3,326.7" stroke="#f28a1c" stroke-width="5" fill="none" stroke-linecap="round"/>
<path d="M 1221.8,302.4 C 1235.8,299.6 1245.1,309.9 1244.2,317.4" stroke="#f3d400" stroke-width="6" fill="none" stroke-linecap="round"/>
<path d="M 1206.9,332.3 C 1214.4,338.8 1229.3,338.8 1235.8,333.2" stroke="#f28a1c" stroke-width="6" fill="none" stroke-linecap="round"/>
<path d="M 1231.2,310.8 C 1238.6,314.6 1241.4,323.9 1238.6,331.3" stroke="#0b6aa6" stroke-width="4" fill="none" stroke-linecap="round"/>
<path d="M 1242.3,320.1 C 1244.2,325.7 1242.3,330.4 1239.5,332.3" stroke="#e8609e" stroke-width="4" fill="none" stroke-linecap="round"/>
<path d="M 1207.9,323.9 C 1212.5,328.5 1217.2,330.4 1221.8,331.3" stroke="#e8609e" stroke-width="4" fill="none" stroke-linecap="round"/>
<path d="M 1199.5,318.3 C 1186.4,305.2 1170.6,299.6 1162.2,305.2 C 1153.8,310.8 1156.6,329.5 1169.6,330.4 C 1180.8,331.3 1192.0,323.9 1199.5,318.3 C 1208.8,310.8 1217.2,303.4 1226.5,304.3 C 1240.5,305.2 1242.3,322.0 1234.0,329.5 C 1224.6,334.1 1210.7,327.6 1199.5,318.3" stroke="#1aa6a6" stroke-width="5" fill="none" stroke-linecap="round"/>
</g>
<text x="1198.7" y="356.0" font-family='"Liberation Sans", sans-serif' font-weight="bold" font-size="9.6" fill="#444" text-anchor="middle" textLength="81" lengthAdjust="spacingAndGlyphs">TIMELESS DESIGN</text>
</g>
<g clip-path="url(#c5)">
<defs><linearGradient id="rib" x1="0" y1="0" x2="0" y2="1"><stop offset="0" stop-color="#aaa"/><stop offset="0.35" stop-color="#111"/><stop offset="0.6" stop-color="#333"/><stop offset="1" stop-color="#888"/></linearGradient></defs>
<polygon points="1180.8,515.3 1196.7,518.1 1186.4,548.9 1181.8,538.6 1171.0,542.3" fill="url(#rib)" stroke="none" stroke-width="0" stroke-linejoin="round" />
<polygon points="1200.9,518.1 1216.2,515.3 1226.0,542.3 1215.3,538.6 1211.1,548.9" fill="url(#rib)" stroke="none" stroke-width="0" stroke-linejoin="round" />
<ellipse cx="1198.5" cy="482.4" rx="37" ry="33" fill="none" stroke="#222" stroke-width="0.8"/>
<circle cx="1198.5" cy="480.4" r="33.5" fill="#050505"/>
<circle cx="1198.5" cy="480.4" r="29.5" fill="none" stroke="#9a9a9a" stroke-width="2.2"/>
<circle cx="1198.5" cy="480.4" r="27" fill="none" stroke="#fff" stroke-width="0.6"/>
<polygon points="1183.6,477.1 1191.1,477.1 1191.1,492.0 1183.6,492.0" fill="#fff" stroke="none" stroke-width="0" stroke-linejoin="round" />
<polygon points="1192.5,476.2 1197.1,465.9 1198.1,461.3 1201.8,462.2 1202.7,469.6 1202.3,475.2 1213.4,475.7 1213.9,480.8 1212.5,483.6 1212.1,487.4 1209.7,489.2 1208.8,492.5 1192.5,492.5" fill="#fff" stroke="none" stroke-width="0" stroke-linejoin="round" />
</g>
<g clip-path="url(#c6)">
<line x1="707.8" y1="1505.0" x2="708.2" y2="1642.5" stroke="#111" stroke-width="1.2"/>
<line x1="721.8" y1="1499.9" x2="720.4" y2="1645.3" stroke="#111" stroke-width="1.2"/>
<line x1="753.9" y1="1502.2" x2="746.9" y2="1645.3" stroke="#111" stroke-width="1.2"/>
<line x1="768.4" y1="1507.8" x2="760.9" y2="1641.6" stroke="#111" stroke-width="1.2"/>
<line x1="673.8" y1="1614.1" x2="707.3" y2="1604.3" stroke="#111" stroke-width="1.2"/>
<line x1="767.0" y1="1548.4" x2="800.5" y2="1540.9" stroke="#111" stroke-width="1.2"/>
<line x1="764.2" y1="1587.1" x2="808.0" y2="1576.8" stroke="#111" stroke-width="1.2"/>
<polygon points="689.6,1553.5 720.8,1550.7 720.8,1544.6 740.4,1550.2 722.7,1564.2 721.8,1558.6 691.9,1561.4" fill="#c8c8c8" stroke="#aaa" stroke-width="0.6" stroke-linejoin="round" />
<polygon points="683.6,1578.2 709.6,1573.1 710.6,1599.6 685.4,1605.2" fill="#8a8a8a" stroke="#222" stroke-width="1" stroke-linejoin="round" />
<polygon points="717.1,1574.5 766.5,1559.6 767.4,1554.9 794.5,1548.8 797.7,1552.1 794.5,1581.0 766.5,1586.6 717.1,1596.4 716.2,1587.5 717.1,1583.8" fill="#8e8e8e" stroke="#222" stroke-width="1" stroke-linejoin="round" />
<polygon points="721.8,1580.1 756.2,1572.6 757.2,1578.2 721.8,1586.1" fill="#fff" stroke="#222" stroke-width="0.6" stroke-linejoin="round" />
<circle cx="774.4" cy="1573.1" r="5.5" fill="#777" stroke="#222" stroke-width="1.2"/>
<circle cx="687.7" cy="1581.9" r="2" fill="#333"/>
<circle cx="693.3" cy="1590.3" r="2" fill="#333"/>
<circle cx="689.6" cy="1600.6" r="2" fill="#333"/>
<circle cx="792.1" cy="1555.4" r="2" fill="#333"/>
<circle cx="789.8" cy="1575.9" r="2" fill="#333"/>
</g>
<g fill="none" stroke="#000" stroke-linejoin="miter">
<path d="M1178,1554.6 L1210.6,1538.3 L1243.2,1554.6 L1243.2,1574.2 M1178,1554.6 L1210.6,1571.9 L1243.2,1554.6 M1210.6,1571.9 L1210.6,1615.2 M1178,1554.6 L1178,1599.4 L1210.6,1615.2 L1226.9,1606.8" stroke-width="5.6"/>
<path d="M1232.5,1587.3 L1246.5,1580.7 L1260.9,1587.3 L1260.9,1607.3 L1246.5,1614.3 L1232.5,1607.3 Z M1232.5,1587.3 L1246.5,1593.3 L1260.9,1587.3 M1246.5,1593.3 L1246.5,1614.3" stroke-width="2.8"/>
</g>
<g clip-path="url(#c8)">
<polygon points="956.2,1675.6 997.0,1674.4 997.0,1691.3 972.5,1698.5 956.2,1691.3" fill="#cda8a1" stroke="none" stroke-width="0" stroke-linejoin="round" />
<polygon points="960.3,1682.8 990.9,1681.6 997.0,1687.7 970.5,1688.9" fill="#dcbab3" stroke="none" stroke-width="0" stroke-linejoin="round" />
<polygon points="921.8,1694.9 957.2,1693.6 957.2,1711.5 936.0,1719.2 921.8,1711.5" fill="#cda8a1" stroke="none" stroke-width="0" stroke-linejoin="round" />
<polygon points="925.3,1702.6 951.9,1701.3 957.2,1707.7 934.2,1709.0" fill="#dcbab3" stroke="none" stroke-width="0" stroke-linejoin="round" />
<polygon points="995.6,1703.4 1007.4,1699.5 1034.9,1701.5 1034.9,1711.3 1009.4,1719.2 995.6,1712.3" fill="#d2aea7" stroke="none" stroke-width="0" stroke-linejoin="round" />
<polygon points="995.6,1703.4 1007.4,1699.5 1034.9,1701.5 1009.4,1707.4" fill="#ddbcb5" stroke="none" stroke-width="0" stroke-linejoin="round" />
<polygon points="957.7,1722.7 994.6,1717.7 994.6,1727.7 961.4,1734.4 957.7,1731.9" fill="#d0aca5" stroke="none" stroke-width="0" stroke-linejoin="round" />
<polygon points="906.0,1727.8 946.9,1726.5 946.9,1744.4 922.4,1752.1 906.0,1744.4" fill="#cda8a1" stroke="none" stroke-width="0" stroke-linejoin="round" />
<polygon points="910.1,1735.5 940.8,1734.2 946.9,1740.6 920.3,1741.9" fill="#dcbab3" stroke="none" stroke-width="0" stroke-linejoin="round" />
<polygon points="1005.4,1728.3 1043.7,1727.0 1043.7,1744.9 1020.7,1752.6 1005.4,1744.9" fill="#cda8a1" stroke="none" stroke-width="0" stroke-linejoin="round" />
<polygon points="1009.2,1736.0 1038.0,1734.7 1043.7,1741.1 1018.8,1742.4" fill="#dcbab3" stroke="none" stroke-width="0" stroke-linejoin="round" />
<polygon points="962.1,1748.5 992.1,1743.8 992.1,1753.2 965.1,1759.5 962.1,1757.1" fill="#d0aca5" stroke="none" stroke-width="0" stroke-linejoin="round" />
<polygon points="918.4,1764.3 961.1,1762.9 961.1,1782.2 935.5,1790.5 918.4,1782.2" fill="#cda8a1" stroke="none" stroke-width="0" stroke-linejoin="round" />
<polygon points="922.7,1772.6 954.7,1771.2 961.1,1778.1 933.3,1779.5" fill="#dcbab3" stroke="none" stroke-width="0" stroke-linejoin="round" />
<polygon points="988.2,1764.8 1030.5,1763.4 1030.5,1782.4 1005.1,1790.5 988.2,1782.4" fill="#cda8a1" stroke="none" stroke-width="0" stroke-linejoin="round" />
<polygon points="992.4,1772.9 1024.2,1771.5 1030.5,1778.3 1003.0,1779.7" fill="#dcbab3" stroke="none" stroke-width="0" stroke-linejoin="round" />
<polygon points="958.2,1795.3 969.0,1791.5 994.1,1793.4 994.1,1803.0 970.8,1810.6 958.2,1803.9" fill="#d2aea7" stroke="none" stroke-width="0" stroke-linejoin="round" />
<polygon points="958.2,1795.3 969.0,1791.5 994.1,1793.4 970.8,1799.1" fill="#ddbcb5" stroke="none" stroke-width="0" stroke-linejoin="round" />
</g>
<circle cx="775.5" cy="154" r="74.8" fill="none" stroke="#c61f27" stroke-width="2.4"/>
<circle cx="775.3" cy="326" r="74.8" fill="none" stroke="#c61f27" stroke-width="2.4"/>
<circle cx="775.3" cy="497" r="74.8" fill="none" stroke="#c61f27" stroke-width="2.4"/>
<circle cx="1198.8" cy="154.3" r="74.8" fill="none" stroke="#c61f27" stroke-width="2.4"/>
<circle cx="1198.5" cy="325.8" r="74.8" fill="none" stroke="#c61f27" stroke-width="2.4"/>
<circle cx="1198.5" cy="497" r="74.8" fill="none" stroke="#c61f27" stroke-width="2.4"/>
<circle cx="734.8" cy="1572.9" r="74.8" fill="none" stroke="#c61f27" stroke-width="2.4"/>
<circle cx="1217.1" cy="1578.8" r="74.8" fill="none" stroke="#c61f27" stroke-width="2.4"/>
<circle cx="975.9" cy="1739.3" r="74.8" fill="none" stroke="#c61f27" stroke-width="2.4"/>
</svg>
</body></html>
